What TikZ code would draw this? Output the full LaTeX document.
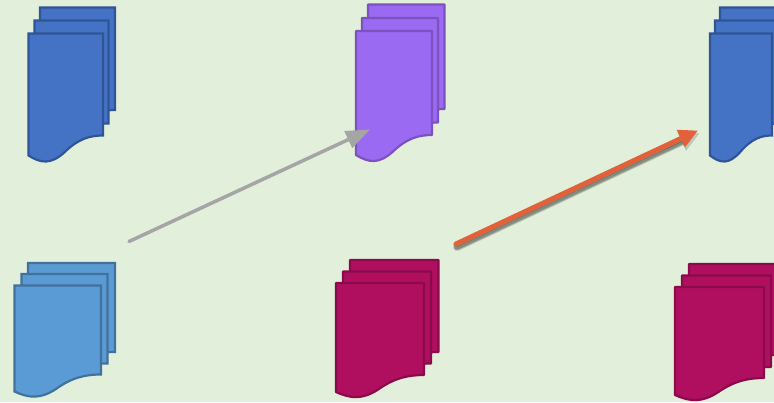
\documentclass[tikz,border=0pt]{standalone}
\usepackage{tikz}
\usetikzlibrary{arrows.meta}
\definecolor{fond}{HTML}{E2EFDA}
\definecolor{bleu}{HTML}{4472C4}
\definecolor{bleubord}{HTML}{2F5597}
\definecolor{ciel}{HTML}{5B9BD5}
\definecolor{cielbord}{HTML}{41719C}
\definecolor{violet}{HTML}{9B6AF2}
\definecolor{violetbord}{HTML}{7B52BE}
\definecolor{grenat}{HTML}{B00F60}
\definecolor{grenatbord}{HTML}{8A0A4B}
\definecolor{fleche}{HTML}{A5A5A5}
\definecolor{orange}{HTML}{E2603A}
% feuille : gauche, haut, droite, bas droit, creux de la vague
\newcommand{\feuille}[5]{\filldraw (#1,#2) -- (#3,#2) -- (#3,#4)
  .. controls ({#3-0.17*(#3-#1)},#4) and ({#3-0.33*(#3-#1)},{#4+0.15*#5}) .. ({#3-0.52*(#3-#1)},{#4+0.85*#5})
  .. controls ({#3-0.70*(#3-#1)},{#4+1.45*#5}) and ({#3-0.83*(#3-#1)},{#4+1.4*#5}) .. (#1,{#4+#5}) -- cycle;}
\tikzset{
  pile/.style={line width=2.2pt,line join=miter},
  trait/.style={line cap=round,-{Triangle[length=#1,width=18pt]}},
  ombre/.style={draw=black,fill=black,opacity=0.16}
}
\begin{document}
\begin{tikzpicture}[x=1pt,y=-1pt]
  \fill[fond] (0,0) rectangle (774,402);
  \useasboundingbox (0,0) rectangle (774,402);

  % piles du haut
  \begin{scope}[pile,fill=bleu,draw=bleubord]
    \feuille{40}{7.5}{115}{110}{20}
    \feuille{34.5}{20.5}{108.5}{123.5}{20}
    \feuille{28.5}{33.5}{103}{135.5}{20}
  \end{scope}
  \begin{scope}[pile,fill=violet,draw=violetbord,line join=round]
    \feuille{368}{4.5}{444.5}{109}{20}
    \feuille{362}{18}{438}{122.5}{20}
    \feuille{356}{31}{432}{135}{20}
  \end{scope}
  \begin{scope}[pile,fill=bleu,draw=bleubord]
    \feuille{720}{7.5}{790}{110}{20}
    \feuille{715}{20.5}{778}{123.5}{20}
    \feuille{710}{33.5}{772}{135.5}{20}
  \end{scope}

  % piles du bas
  \begin{scope}[pile,fill=ciel,draw=cielbord]
    \feuille{28}{263}{115}{352}{17}
    \feuille{21.5}{274}{107.5}{363.5}{17}
    \feuille{14.5}{285.5}{101}{374.5}{17}
  \end{scope}
  \begin{scope}[pile,fill=grenat,draw=grenatbord,line join=round]
    \feuille{350}{260}{438.5}{352}{17}
    \feuille{343}{271.5}{431}{363.5}{17}
    \feuille{336}{283}{424}{375}{17}
  \end{scope}
  \begin{scope}[pile,fill=grenat,draw=grenatbord,line join=round]
    \feuille{689}{264}{778}{355}{17}
    \feuille{682}{275.5}{771}{367}{17}
    \feuille{675}{287}{764}{378}{17}
  \end{scope}

  % fleches
  \coordinate (griseA) at (129,241.5);
  \coordinate (griseB) at (370,129.5);
  \coordinate (orangeA) at (456,244);
  \coordinate (orangeB) at (698,130.5);
  \coordinate (ombreA) at (457,247);
  \coordinate (ombreB) at (699,133.5);
  \draw[trait=24pt,line width=3.5pt,draw=fleche,fill=fleche] (griseA) -- (griseB);
  \foreach \ep in {8,6.5,5} {
    \draw[ombre,line cap=round,shorten >=14pt,line width=\ep pt] (ombreA) -- (ombreB);
  }
  \draw[ombre,-{Triangle[length=19pt,width=20pt]},line width=0.1pt,shorten <=230pt] (ombreA) -- (ombreB);
  \draw[trait=19pt,line width=5pt,draw=orange,fill=orange] (orangeA) -- (orangeB);
\end{tikzpicture}
\end{document}
